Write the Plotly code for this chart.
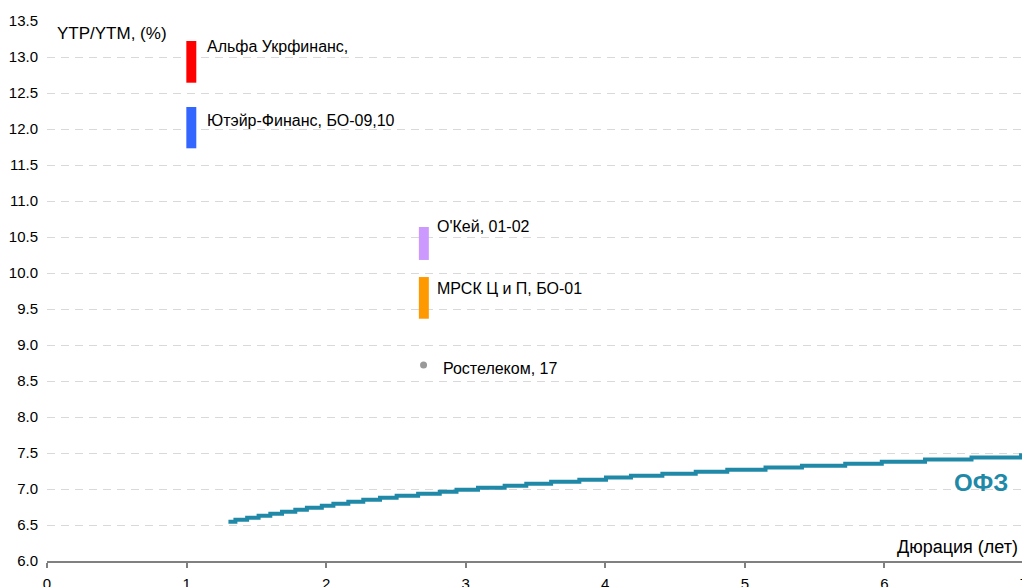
import plotly.graph_objects as go

# ---- data ----
ofz_x = [1.300, 1.350, 1.434, 1.516, 1.600, 1.684, 1.779, 1.862, 1.969, 2.052,
         2.159, 2.266, 2.386, 2.505, 2.659, 2.814, 2.934, 3.088, 3.279, 3.434,
         3.612, 3.814, 4.005, 4.184, 4.409, 4.648, 4.874, 5.148, 5.409, 5.719,
         5.981, 6.291, 6.624, 6.979, 7.020]
ofz_y = [6.546, 6.574, 6.602, 6.629, 6.657, 6.685, 6.713, 6.741, 6.768, 6.796,
         6.824, 6.852, 6.880, 6.907, 6.935, 6.963, 6.991, 7.019, 7.046, 7.074,
         7.102, 7.130, 7.158, 7.185, 7.213, 7.241, 7.269, 7.297, 7.324, 7.352,
         7.380, 7.408, 7.436, 7.470, 7.480]

bond_names = ["Альфа Укрфинанс,", "Ютэйр-Финанс, БО-09,10", "О'Кей, 01-02", "МРСК Ц и П, БО-01"]
bond_dur = [1.034, 1.034, 2.70, 2.70]
bond_low = [12.643, 11.732, 10.181, 9.365]
bond_high = [13.222, 12.306, 10.639, 9.944]
bond_colors = ["#ff0000", "#3366ff", "#cc99ff", "#ff9900"]
label_x = [1.13, 1.13, 2.78, 2.78]
label_y = [13.15, 12.12, 10.64, 9.78]

dot_name = "Ростелеком, 17"
dot_dur = [2.698]
dot_ytm = [8.722]
dot_label_x = 2.823
dot_label_y = 8.67

y_ticks = [6.0, 6.5, 7.0, 7.5, 8.0, 8.5, 9.0, 9.5, 10.0, 10.5, 11.0, 11.5, 12.0, 12.5, 13.0, 13.5]
x_ticks = [0, 1, 2, 3, 4, 5, 6, 7]

TEAL = "#2189a8"
FONT = "Liberation Sans, Arial, sans-serif"

fig = go.Figure()

fig.add_trace(go.Scatter(x=ofz_x, y=ofz_y, mode="lines", line=dict(color=TEAL, width=4, shape="hv"),
                         hoverinfo="skip", showlegend=False, cliponaxis=True))

for name, d, lo, hi, c in zip(bond_names, bond_dur, bond_low, bond_high, bond_colors):
    fig.add_trace(go.Bar(x=[d], y=[hi - lo], base=[lo], width=0.0714, marker=dict(color=c, line=dict(width=0)),
                         name=name, showlegend=False))

fig.add_trace(go.Scatter(x=dot_dur, y=dot_ytm, mode="markers", marker=dict(color="#999999", size=7),
                         showlegend=False))

annotations = []
for name, lx, ly in zip(bond_names, label_x, label_y):
    annotations.append(dict(x=lx, y=ly, xref="x", yref="y", text=name, showarrow=False,
                            xanchor="left", yanchor="middle", font=dict(size=16, color="#000000", family=FONT)))
annotations.append(dict(x=dot_label_x, y=dot_label_y, xref="x", yref="y", text=dot_name, showarrow=False,
                        xanchor="left", yanchor="middle", font=dict(size=16, color="#000000", family=FONT)))
annotations.append(dict(x=0.055, y=13.32, xref="x", yref="y", text="YTP/YTM, (%)", showarrow=False,
                        xanchor="left", yanchor="middle", font=dict(size=17, color="#000000", family=FONT)))
annotations.append(dict(x=6.97, y=6.194, xref="x", yref="y", text="Дюрация (лет)", showarrow=False,
                        xanchor="right", yanchor="middle", font=dict(size=18, color="#000000", family=FONT)))
annotations.append(dict(x=6.69, y=7.09, xref="x", yref="y", text="<b>ОФЗ</b>", showarrow=False,
                        xanchor="center", yanchor="middle", font=dict(size=24, color=TEAL, family=FONT)))

fig.update_layout(
    width=1022, height=579,
    margin=dict(l=39, r=6, t=13, b=26),
    paper_bgcolor="white", plot_bgcolor="white",
    font=dict(family=FONT, size=13, color="#000000"),
    barmode="overlay",
    annotations=annotations,
    xaxis=dict(range=[0, 7], tickvals=x_ticks, showgrid=False, zeroline=False, automargin=False,
               showline=True, linecolor="#808080", linewidth=1.5,
               ticks="outside", ticklen=5, tickcolor="#808080", tickwidth=1.5,
               ticklabelstandoff=3, ticklabeloverflow="allow",
               tickfont=dict(size=15, family=FONT, color="#000000")),
    yaxis=dict(range=[6, 13.5], tickvals=y_ticks, tickformat=".1f", showgrid=True, automargin=False,
               gridcolor="#d9d9d9", griddash="8px,6px", gridwidth=1, zeroline=False,
               showline=False, ticks="", ticklabelstandoff=8,
               tickfont=dict(size=15, family=FONT, color="#000000")),
)

fig.write_html("out.html")
